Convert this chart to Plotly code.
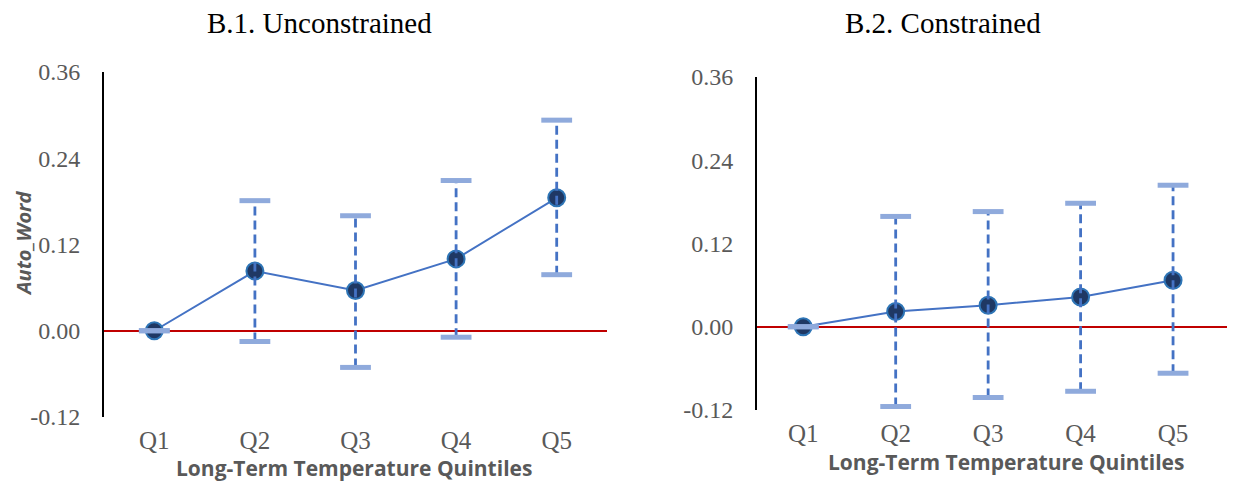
import plotly.graph_objects as go

categories = ["Q1", "Q2", "Q3", "Q4", "Q5"]

unc_coef = [0.0, 0.083, 0.056, 0.100, 0.185]
unc_low = [0.0, -0.015, -0.051, -0.009, 0.078]
unc_high = [0.0, 0.181, 0.160, 0.209, 0.293]

con_coef = [0.0, 0.022, 0.031, 0.043, 0.067]
con_low = [0.0, -0.115, -0.102, -0.093, -0.067]
con_high = [0.0, 0.159, 0.166, 0.178, 0.204]

y_ticks = [-0.12, 0.0, 0.12, 0.24, 0.36]
y_tick_labels = ["-0.12", "0.00", "0.12", "0.24", "0.36"]

W, H = 1235, 487
OFF = 8  # page margin offset of the figure inside the window
LINE_BLUE = "#4472C4"
CAP_BLUE = "#8FAADC"
NAVY = "#1F3864"
GRAY = "#595959"


def px(x):
    return (x - OFF) / W


def py(y):
    return 1 - (y - OFF) / H


fig = go.Figure()


def add_panel(coef, low, high, xa, ya):
    xs, ys = [], []
    for c, lo, hi in zip(categories, low, high):
        xs += [c, c, None]
        ys += [lo, hi, None]
    fig.add_trace(go.Scatter(x=categories, y=coef, mode="lines",
                             line=dict(color=LINE_BLUE, width=2),
                             xaxis=xa, yaxis=ya, showlegend=False, hoverinfo="skip"))
    fig.add_trace(go.Scatter(x=categories, y=coef, mode="markers",
                             marker=dict(size=17, color=NAVY,
                                         line=dict(color="#2E75B6", width=2)),
                             xaxis=xa, yaxis=ya, showlegend=False))
    fig.add_trace(go.Scatter(x=xs, y=ys, mode="lines",
                             line=dict(color=LINE_BLUE, width=2.8, dash="9px,5px"),
                             xaxis=xa, yaxis=ya, showlegend=False, hoverinfo="skip"))
    fig.add_trace(go.Scatter(x=categories + categories, y=low + high, mode="markers",
                             marker=dict(symbol="line-ew", size=22,
                                         line=dict(color=CAP_BLUE, width=5)),
                             xaxis=xa, yaxis=ya, showlegend=False, hoverinfo="skip"))


add_panel(unc_coef, unc_low, unc_high, "x", "y")
add_panel(con_coef, con_low, con_high, "x2", "y2")

tickfont_y = dict(family="Liberation Serif", size=24, color=GRAY)
tickfont_x = dict(family="Liberation Serif", size=25, color=GRAY)

yax = dict(range=[-0.12, 0.36], tickvals=y_ticks, ticktext=y_tick_labels,
           showgrid=False, showline=True, linecolor="black", linewidth=2,
           zeroline=True, zerolinecolor="#C00000", zerolinewidth=2,
           ticks="outside", ticklen=17, tickcolor="rgba(0,0,0,0)",
           tickfont=tickfont_y, automargin=False)
xax = dict(type="category", showgrid=False, showline=False, zeroline=False,
           ticks="outside", ticklen=1, tickcolor="rgba(0,0,0,0)",
           tickfont=tickfont_x, automargin=False)


def ann(text, x, y, font, angle=0):
    return dict(text=text, x=px(x), y=py(y), xref="paper", yref="paper",
                xanchor="center", yanchor="middle", showarrow=False,
                textangle=angle, font=font)


title_font = dict(family="Liberation Serif", size=29, color="black")
xtitle_font = dict(family="Open Sans", size=21, color=GRAY)

fig.update_layout(
    width=W, height=H,
    margin=dict(l=0, r=0, t=0, b=0, autoexpand=False),
    paper_bgcolor="white", plot_bgcolor="white",
    xaxis=dict(xax, domain=[px(104), px(607)], range=[-0.5, 4.5], anchor="y"),
    yaxis=dict(yax, domain=[py(417), py(72)], anchor="x"),
    xaxis2=dict(xax, domain=[px(757), px(1235)], range=[-0.5, 4.67], anchor="y2"),
    yaxis2=dict(yax, domain=[py(410), py(77)], anchor="x2"),
    annotations=[
        ann("B.1. Unconstrained", 319, 23, title_font),
        ann("B.2. Constrained", 943, 23, title_font),
        ann("<b>Long-Term Temperature Quintiles</b>", 354, 468, xtitle_font),
        ann("<b>Long-Term Temperature Quintiles</b>", 1006, 462, xtitle_font),
        ann("<b><i>Auto_Word</i></b>", 23, 243,
            dict(family="Open Sans", size=20, color=GRAY), angle=-90),
    ],
)

fig.write_html("out.html")
